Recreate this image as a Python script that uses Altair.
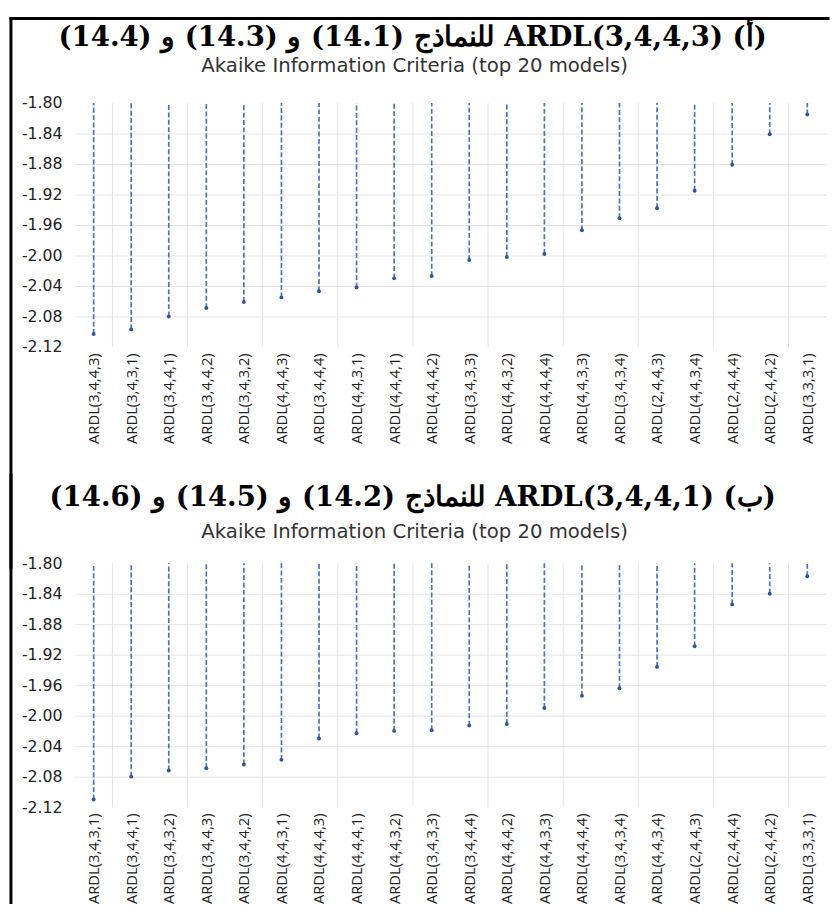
import altair as alt
import pandas as pd

# ---- data ----
models_a = ["ARDL(3,4,4,3)", "ARDL(3,4,3,1)", "ARDL(3,4,4,1)", "ARDL(3,4,4,2)", "ARDL(3,4,3,2)",
            "ARDL(4,4,4,3)", "ARDL(3,4,4,4)", "ARDL(4,4,3,1)", "ARDL(4,4,4,1)", "ARDL(4,4,4,2)",
            "ARDL(3,4,3,3)", "ARDL(4,4,3,2)", "ARDL(4,4,4,4)", "ARDL(4,4,3,3)", "ARDL(3,4,3,4)",
            "ARDL(2,4,4,3)", "ARDL(4,4,3,4)", "ARDL(2,4,4,4)", "ARDL(2,4,4,2)", "ARDL(3,3,3,1)"]
aic_a = [-2.103, -2.097, -2.080, -2.069, -2.061, -2.055, -2.047, -2.042, -2.030, -2.027,
         -2.006, -2.002, -1.998, -1.967, -1.951, -1.938, -1.915, -1.881, -1.841, -1.815]

models_b = ["ARDL(3,4,3,1)", "ARDL(3,4,4,1)", "ARDL(3,4,3,2)", "ARDL(3,4,4,3)", "ARDL(3,4,4,2)",
            "ARDL(4,4,3,1)", "ARDL(4,4,4,3)", "ARDL(4,4,4,1)", "ARDL(4,4,3,2)", "ARDL(3,4,3,3)",
            "ARDL(3,4,4,4)", "ARDL(4,4,4,2)", "ARDL(4,4,3,3)", "ARDL(4,4,4,4)", "ARDL(3,4,3,4)",
            "ARDL(4,4,3,4)", "ARDL(2,4,4,3)", "ARDL(2,4,4,4)", "ARDL(2,4,4,2)", "ARDL(3,3,3,1)"]
aic_b = [-2.110, -2.080, -2.072, -2.069, -2.064, -2.058, -2.030, -2.023, -2.020, -2.019,
         -2.013, -2.011, -1.990, -1.974, -1.964, -1.936, -1.909, -1.854, -1.840, -1.817]

y_ticks = [-1.80, -1.84, -1.88, -1.92, -1.96, -2.00, -2.04, -2.08, -2.12]
y_top = -1.80
y_bottom = -2.12

title_a = "\u202B(أ) ARDL(3,4,4,3)\u200E للنماذج (14.1) و (14.3) و (14.4)\u202C"
title_b = "\u202B(ب)  ARDL(3,4,4,1)\u200E للنماذج (14.2) و (14.5) و (14.6)\u202C"
subtitle = "Akaike Information Criteria (top 20 models)"

W = 764
H = 248
GAP = 220
GRID = "#e3e3e3"
LINE = "#4472c4"
DOT = "#2f5597"


def panel(models, aic, title, frame_top, frame_bottom, top_line, title_y, sub_y):
    df = pd.DataFrame({"idx": list(range(1, len(models) + 1)), "model": models, "aic": aic})
    label_expr = "[" + ",".join("'" + m + "'" for m in models) + "][datum.value - 1]"
    xscale = alt.Scale(domain=[0.5, len(models) + 0.5], nice=False, zero=False)
    yscale = alt.Scale(domain=[y_bottom, y_top], nice=False, zero=False)
    xaxis = alt.Axis(values=list(range(1, len(models) + 1)), labelExpr=label_expr,
                     labelAngle=-90, ticks=False, domain=False, grid=False, title=None,
                     labelFont="Open Sans", labelFontSize=15, labelColor="#222",
                     labelPadding=6, labelOverlap=False, labelFlush=False)
    yaxis = alt.Axis(values=y_ticks, labelExpr="'-' + format(abs(datum.value), '.2f')",
                     ticks=False, domain=False, title=None, grid=True, gridColor=GRID,
                     gridOpacity={"condition": {"test": "datum.value > -2.115 && datum.value < -1.805",
                                                "value": 1}, "value": 0},
                     labelFont="DejaVu Sans", labelFontSize=16, labelColor="#222",
                     labelPadding=13, labelOverlap=False, labelFlush=False)

    base = alt.Chart(df)
    vgrid = base.transform_filter("datum.idx % 2 == 1 && datum.idx < 20").transform_calculate(
        gx="datum.idx + 0.5").mark_rule(color=GRID, strokeWidth=1).encode(
        x=alt.X("gx:Q", scale=xscale, axis=xaxis))
    drops = base.mark_rule(color=LINE, strokeWidth=1.7, strokeDash=[5, 2.5]).encode(
        x=alt.X("idx:Q", scale=xscale, axis=xaxis),
        y=alt.Y("aic:Q", scale=yscale, axis=yaxis),
        y2=alt.Y2Datum(y_top))
    dots = base.mark_circle(size=16, color=DOT, opacity=1).encode(
        x=alt.X("idx:Q", scale=xscale, axis=xaxis),
        y=alt.Y("aic:Q", scale=yscale, axis=yaxis))

    one = alt.Chart(pd.DataFrame({"k": [0]}))
    left = one.mark_rule(color="black", strokeWidth=3, strokeCap="square").encode(
        x=alt.value(-65), y=alt.value(frame_top), y2=alt.value(frame_bottom))
    head = one.mark_text(font="DejaVu Serif", fontSize=28, fontWeight="bold", color="black",
                         align="center", baseline="middle").encode(
        x=alt.value(343.5), y=alt.value(title_y), text=alt.value(title))
    sub = one.mark_text(font="DejaVu Sans", fontSize=20, color="#333",
                        align="center", baseline="middle").encode(
        x=alt.value(345.5), y=alt.value(sub_y), text=alt.value(subtitle))
    layers = [vgrid, drops, dots, left, head, sub]
    if top_line:
        top = one.mark_rule(color="black", strokeWidth=3, strokeCap="square").encode(
            x=alt.value(-65), x2=alt.value(W + 2), y=alt.value(frame_top))
        layers.append(top)

    return alt.layer(*layers).properties(width=W, height=H)


p1 = panel(models_a, aic_a, title_a, -86, H + GAP + 4, True, -66, -38)
p2 = panel(models_b, aic_b, title_b, -90, H + 97, False, -66, -32)

chart = alt.vconcat(p1, p2, spacing=GAP, bounds="flush").configure(padding=0).configure_view(strokeWidth=0)
chart.save("out.html", embed_options={"renderer": "svg", "actions": False})
